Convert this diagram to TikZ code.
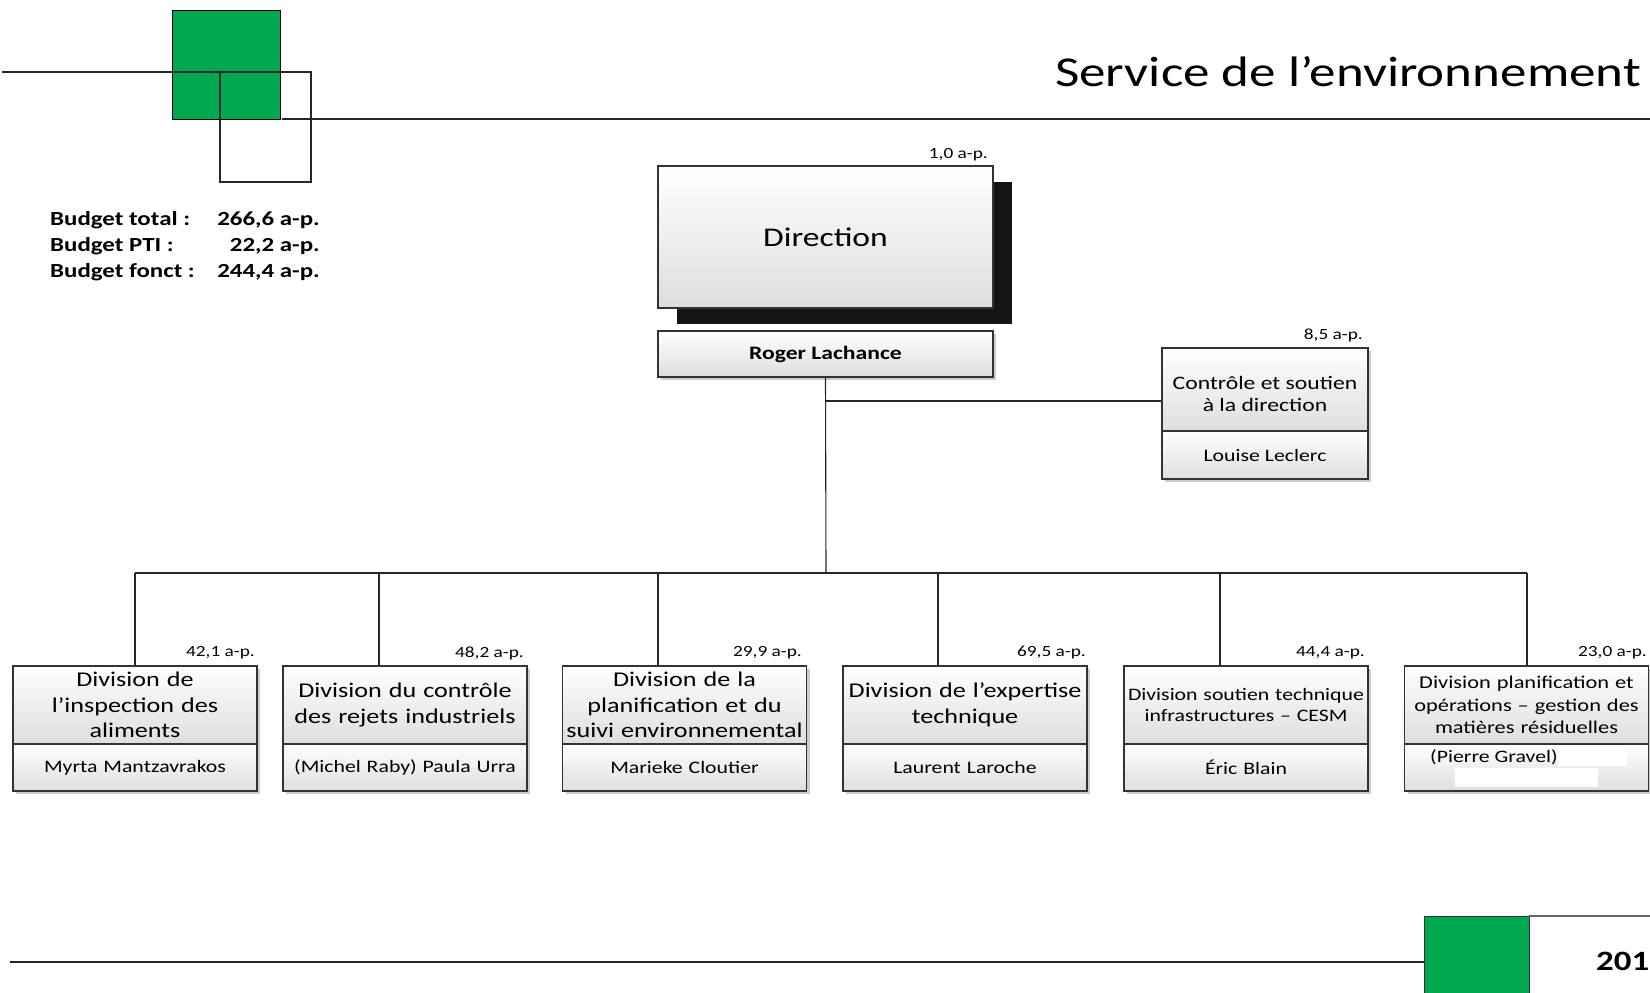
\documentclass[tikz,border=0pt]{standalone}
\usepackage{fontspec}
\setmainfont{Carlito}[FakeStretch=1.245]
\usetikzlibrary{shadows}
\definecolor{logogreen}{RGB}{0,168,80}
\begin{document}
\begin{tikzpicture}[x=1pt,y=-1pt,
  line/.style={draw=black!85, line width=1.1pt},
  box/.style={draw=black!80, line width=1.2pt, top color=white, bottom color=black!13, inner sep=0pt, align=center},
  shad/.style={drop shadow={shadow xshift=3pt, shadow yshift=-3pt, fill=black!40, opacity=0.5}},
  ap/.style={anchor=east, font=\fontsize{15.5}{18}\selectfont, inner sep=0pt},
  budl/.style={anchor=base west, font=\bfseries\fontsize{20}{24}\selectfont, inner sep=0pt},
  budv/.style={anchor=base east, font=\bfseries\fontsize{20}{24}\selectfont, inner sep=0pt},
  divt/.style={box, shad, minimum width=244pt, minimum height=78pt, text width=242pt, font=\fontsize{21}{25.5}\selectfont},
  divn/.style={box, shad, minimum width=244pt, minimum height=47pt, text width=242pt, font=\fontsize{17.5}{21}\selectfont},
  small/.style={font=\fontsize{17.5}{21.5}\selectfont},
]
\useasboundingbox (0,0) rectangle (1650,993);

% top logo and rules
\filldraw[fill=logogreen, draw=black, line width=1pt] (172,10) rectangle (280,119);
\draw[line] (2,72) -- (220,72);
\draw[line] (220,72) rectangle (311,182);
\draw[line] (282,119) -- (1650,119);

\node[anchor=base west, font=\fontsize{42.6}{50}\selectfont, inner sep=0pt] (title) at (1055,86) {Service de l’environnement};

% budget
\node[budl] (bl1) at (50,225) {Budget total :};
\node[budv] (bv1) at (320,225) {266,6 a-p.};
\node[budl] (bl2) at (50,251) {Budget PTI :};
\node[budv] (bv2) at (320,251) {22,2 a-p.};
\node[budl] (bl3) at (50,277) {Budget fonct :};
\node[budv] (bv3) at (320,277) {244,4 a-p.};

% direction
\node[box, minimum width=335pt, minimum height=142pt,
      drop shadow={shadow xshift=19pt, shadow yshift=-16pt, fill=black!92, opacity=1},
      font=\fontsize{27}{32}\selectfont] (dir) at (825.5,237) {Direction};
\node[ap] (apdir) at (988,155) {1,0 a-p.};
\node[box, shad, minimum width=335pt, minimum height=46pt, font=\bfseries\fontsize{19}{23}\selectfont] (roger) at (825.5,354) {Roger Lachance};

% controle
\node[box, shad, minimum width=206pt, minimum height=83pt] (ctl) at (1265,389.5) {};
\node[align=center, inner sep=0pt, font=\fontsize{19}{22.5}\selectfont] (ctltxt) at (1265,394) {Contrôle et soutien\\à la direction};
\node[box, shad, minimum width=206pt, minimum height=48pt, font=\fontsize{17.5}{21}\selectfont] (ctln) at (1265,455) {Louise Leclerc};
\node[ap] (apctl) at (1363,335) {8,5 a-p.};

% divisions
\node[divt] (d1) at (135,705) {Division de\\l’inspection des\\aliments};
\node[divn] (d1n) at (135,767.5) {Myrta Mantzavrakos};
\node[ap] at (255,653) {42,1 a-p.};

\node[divt] (d2) at (405,705) {Division du contrôle\\des rejets industriels};
\node[divn] (d2n) at (405,767.5) {(Michel Raby) Paula Urra};
\node[ap] at (524,653) {48,2 a-p.};

\node[divt] (d3) at (684.5,705) {Division de la\\planification et du\\suivi environnemental};
\node[divn] (d3n) at (684.5,767.5) {Marieke Cloutier};
\node[ap] at (802,653) {29,9 a-p.};

\node[divt] (d4) at (965,705) {Division de l’expertise\\technique};
\node[divn] (d4n) at (965,767.5) {Laurent Laroche};
\node[ap] at (1086,653) {69,5 a-p.};

\node[divt, small] (d5) at (1246,705) {Division soutien technique\\infrastructures – CESM};
\node[divn] (d5n) at (1246,767.5) {Éric Blain};
\node[ap] at (1365,653) {44,4 a-p.};

\node[divt, font=\fontsize{18}{22.5}\selectfont] (d6) at (1526.5,705) {Division planification et\\opérations – gestion des\\matières résiduelles};
\node[divn] (d6n) at (1526.5,767.5) {};
\node[anchor=west, inner sep=0pt, font=\fontsize{17.5}{21}\selectfont] (pg) at (1430,757) {(Pierre Gravel)};
\fill[white] (1558,751) rectangle (1627,766);
\fill[white] (1455,768) rectangle (1598,787);
\node[ap] at (1647,653) {23,0 a-p.};

% connectors
\coordinate (bus) at (826,573);
\coordinate (br) at (826,401);
\coordinate (b1) at (135,573);
\coordinate (b2) at (379,573);
\coordinate (b3) at (658,573);
\coordinate (b4) at (938,573);
\coordinate (b5) at (1220,573);
\coordinate (b6) at (1527,573);
\draw[line] (roger.south) -- (bus);
\draw[line] (br) -- (br -| ctl.west);
\draw[line] (b1) -- (b6);
\foreach \i in {1,...,6} { \draw[line] (b\i) -- (b\i |- d\i.north); }

% bottom rule and logo
\draw[line] (10,962) -- (1424,962);
\filldraw[fill=logogreen, draw=black!80, line width=1pt] (1424,916) rectangle (1529,1000);
\draw[line, draw=black!60] (1529,916) -- (1650,916);
\node[anchor=west, inner sep=0pt, font=\bfseries\fontsize{28}{33}\selectfont] (year) at (1596,961) {201};
\end{tikzpicture}
\end{document}
